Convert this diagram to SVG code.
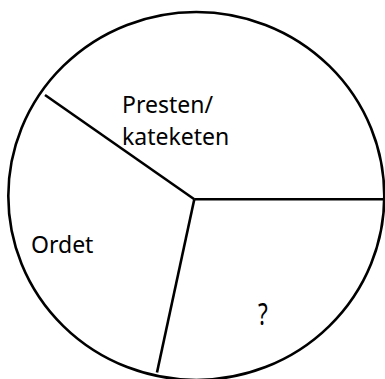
<svg xmlns="http://www.w3.org/2000/svg" width="385" height="379" viewBox="0 0 385 379">
<style>
.s{fill:none;stroke:#000;stroke-width:2.6}
.t{font-family:"Noto Sans","Open Sans",sans-serif;font-size:23px;fill:#000}
</style>
<rect width="385" height="379" fill="#fff"/>
<g id="circle"><ellipse class="s" cx="196.3" cy="196" rx="188" ry="184"/></g>
<g id="connectors">
<line class="s" x1="194.3" y1="199.3" x2="45" y2="95"/>
<line class="s" x1="194.3" y1="199.3" x2="384" y2="199.3"/>
<line class="s" x1="194.3" y1="199.3" x2="157" y2="372.5"/>
</g>
<g id="presten"><text class="t" x="122" y="113">Presten/</text><text class="t" x="122" y="145">kateketen</text></g>
<g id="ordet"><text class="t" x="31" y="253">Ordet</text></g>
<g id="question"><text class="t" transform="translate(258,325) scale(0.75,1)" x="0" y="0" style="font-size:30px">?</text></g>
</svg>
